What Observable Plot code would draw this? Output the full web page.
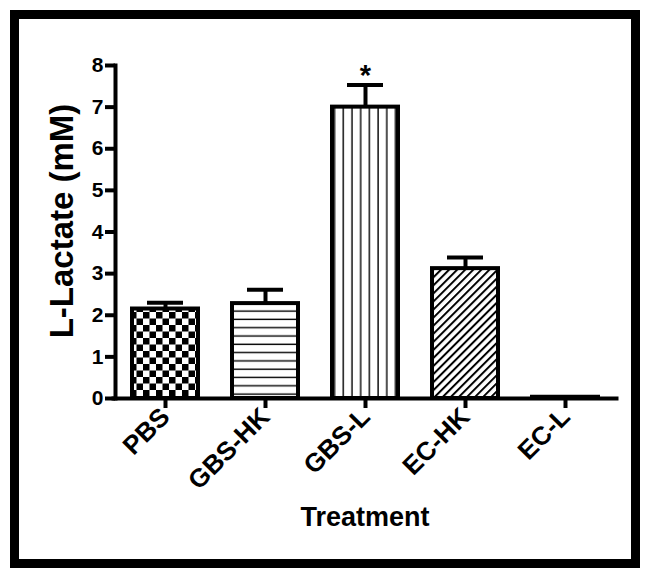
<!DOCTYPE html>
<html>
<head>
<meta charset="utf-8">
<script src="https://cdn.jsdelivr.net/npm/d3@7"></script>
<script src="https://cdn.jsdelivr.net/npm/@observablehq/plot@0.6"></script>
<style>
  html, body { margin: 0; padding: 0; background: white; }
</style>
</head>
<body>
<div id="chart"></div>
<script>
// Data
const categories = ["PBS", "GBS-HK", "GBS-L", "EC-HK", "EC-L"];
const means = [2.15, 2.28, 7.0, 3.12, 0.03];
const errors = [0.15, 0.33, 0.53, 0.27, 0];
const significance = ["", "", "*", "", ""];
const yTicks = [0, 1, 2, 3, 4, 5, 6, 7, 8];
const yLabel = "L-Lactate (mM)";
const xLabel = "Treatment";
const patternIds = ["checker", "hlines", "vlines", "diag", "blank"];

const data = categories.map((c, i) => ({
  treatment: c,
  mean: means[i],
  err: errors[i],
  top: means[i] + errors[i],
  sig: significance[i],
  fill: `url(#${patternIds[i]})`
}));

const chart = Plot.plot({
  width: 651,
  height: 579,
  marginLeft: 113,
  marginRight: 35,
  marginTop: 65,
  marginBottom: 181,
  style: {
    fontFamily: "'Liberation Sans', Arial, Helvetica, sans-serif",
    fontWeight: "bold",
    fontSize: "21px",
    color: "black",
    background: "white",
    overflow: "visible"
  },
  x: { domain: categories, paddingInner: 0.34, paddingOuter: 0.17, label: null },
  y: { domain: [0, 8], label: null },
  color: { type: "identity" },
  marks: [
    Plot.barY(data, { x: "treatment", y: "mean", fill: "fill", stroke: "black", strokeWidth: 4 }),
    Plot.ruleX(data.filter(d => d.err > 0), { x: "treatment", y1: "mean", y2: "top", stroke: "black", strokeWidth: 4 }),
    Plot.tickY(data.filter(d => d.err > 0), { x: "treatment", y: "top", stroke: "black", strokeWidth: 4, insetLeft: 15, insetRight: 15 }),
    Plot.text(data.filter(d => d.sig), { x: "treatment", y: "top", text: "sig", lineAnchor: "bottom", fontSize: 29, fontWeight: "bold", fill: "black" }),
    Plot.frame({ anchor: "left", stroke: "black", strokeWidth: 4, dx: 2 }),
    Plot.frame({ anchor: "bottom", stroke: "black", strokeWidth: 4 }),
    Plot.axisY({ ticks: yTicks, tickSize: 10, tickPadding: 2, strokeWidth: 4, fontSize: 21, fontWeight: "bold", dx: 2, label: null }),
    Plot.axisX({ tickSize: 10, tickPadding: 4, strokeWidth: 4, fontSize: 26, fontWeight: "bold", tickRotate: -45, label: null }),
    Plot.text([yLabel], { frameAnchor: "left", dx: -51, dy: -11, rotate: -90, textAnchor: "middle", fontSize: 33, fontWeight: "bold", fill: "black" }),
    Plot.text([xLabel], { frameAnchor: "bottom", dy: 127, lineAnchor: "bottom", textAnchor: "middle", fontSize: 27, fontWeight: "bold", fill: "black" })
  ]
});

const svg = d3.select(chart);
const defs = svg.insert("defs", ":first-child");

const checker = defs.append("pattern").attr("id", "checker").attr("patternUnits", "userSpaceOnUse")
  .attr("width", 13).attr("height", 13);
checker.append("rect").attr("width", 13).attr("height", 13).attr("fill", "white");
checker.append("rect").attr("width", 6.5).attr("height", 6.5).attr("fill", "black");
checker.append("rect").attr("x", 6.5).attr("y", 6.5).attr("width", 6.5).attr("height", 6.5).attr("fill", "black");

const hl = defs.append("pattern").attr("id", "hlines").attr("patternUnits", "userSpaceOnUse")
  .attr("width", 10).attr("height", 8.3);
hl.append("rect").attr("width", 10).attr("height", 8.3).attr("fill", "white");
hl.append("line").attr("x1", 0).attr("x2", 10).attr("y1", 4).attr("y2", 4).attr("stroke", "black").attr("stroke-width", 1.4);

const vl = defs.append("pattern").attr("id", "vlines").attr("patternUnits", "userSpaceOnUse")
  .attr("width", 8.7).attr("height", 10);
vl.append("rect").attr("width", 8.7).attr("height", 10).attr("fill", "white");
vl.append("line").attr("x1", 4).attr("x2", 4).attr("y1", 0).attr("y2", 10).attr("stroke", "black").attr("stroke-width", 1.4);

const dg = defs.append("pattern").attr("id", "diag").attr("patternUnits", "userSpaceOnUse")
  .attr("width", 5.7).attr("height", 10).attr("patternTransform", "rotate(45)");
dg.append("rect").attr("width", 5.7).attr("height", 10).attr("fill", "white");
dg.append("line").attr("x1", 1).attr("x2", 1).attr("y1", 0).attr("y2", 10).attr("stroke", "black").attr("stroke-width", 2);

const bl = defs.append("pattern").attr("id", "blank").attr("patternUnits", "userSpaceOnUse")
  .attr("width", 10).attr("height", 10);
bl.append("rect").attr("width", 10).attr("height", 10).attr("fill", "white");

svg.append("rect")
  .attr("x", 14.5).attr("y", 14.5).attr("width", 621).attr("height", 549)
  .attr("fill", "none").attr("stroke", "black").attr("stroke-width", 9);

document.getElementById("chart").appendChild(chart);
</script>
</body>
</html>
